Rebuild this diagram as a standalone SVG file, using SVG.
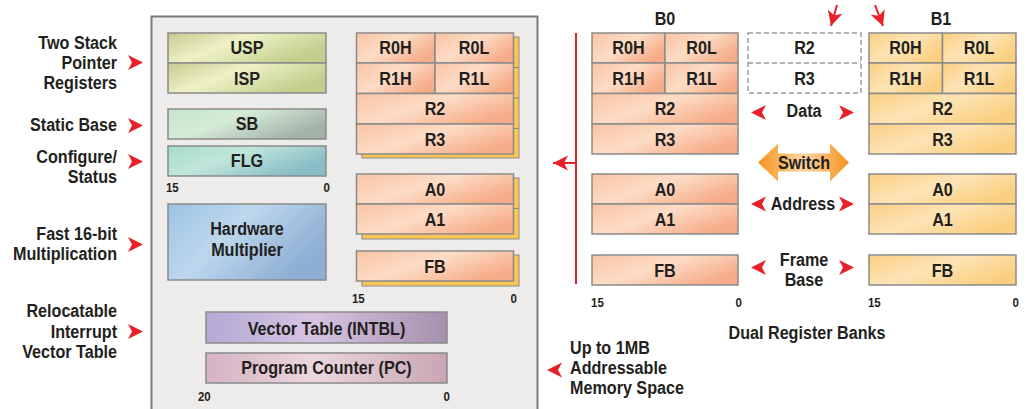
<svg xmlns="http://www.w3.org/2000/svg" width="1029" height="409" viewBox="0 0 1029 409">
<defs>
<style>
.t{font-family:"Liberation Sans",Arial,sans-serif;font-weight:bold;font-size:19px;fill:#231f20;transform-box:fill-box;transform-origin:left center;transform:scaleX(0.85)}
.c{text-anchor:middle;transform-origin:center center}
.e{text-anchor:end;transform-origin:right center}
.s{font-size:13.5px}
.r{stroke:#8a8a8a;stroke-width:1.5}
.sh{fill:#fbc657;stroke:#8a8a8a;stroke-width:1}
.red{stroke:#e8202a;stroke-width:2;fill:none}
</style>
<linearGradient id="gSal" x1="0" y1="0" x2="1" y2="0.6"><stop offset="0" stop-color="#f9c4a4"/><stop offset="0.5" stop-color="#fddcc6"/><stop offset="1" stop-color="#f6ac88"/></linearGradient>
<linearGradient id="gYel" x1="0" y1="0" x2="1" y2="0.6"><stop offset="0" stop-color="#fbcf82"/><stop offset="0.5" stop-color="#fde4b6"/><stop offset="1" stop-color="#fbcf80"/></linearGradient>
<linearGradient id="gOl" x1="0" y1="0" x2="1" y2="0.5"><stop offset="0" stop-color="#c6cb8f"/><stop offset="0.45" stop-color="#eef1c6"/><stop offset="1" stop-color="#c1ce8c"/></linearGradient>
<linearGradient id="gSB" x1="0" y1="0" x2="1" y2="0.5"><stop offset="0" stop-color="#c3e5cd"/><stop offset="0.45" stop-color="#d6ebd6"/><stop offset="1" stop-color="#a2b3a9"/></linearGradient>
<linearGradient id="gFLG" x1="0" y1="0" x2="1" y2="0.5"><stop offset="0" stop-color="#a8dcc6"/><stop offset="0.45" stop-color="#c0e6da"/><stop offset="1" stop-color="#88bcc6"/></linearGradient>
<linearGradient id="gHW" x1="0" y1="0" x2="1" y2="0.5"><stop offset="0" stop-color="#9cc3e2"/><stop offset="0.45" stop-color="#bdd7ee"/><stop offset="1" stop-color="#8eafd3"/></linearGradient>
<linearGradient id="gVT" x1="0" y1="0" x2="1" y2="0"><stop offset="0" stop-color="#b4aad6"/><stop offset="0.45" stop-color="#d6c3e1"/><stop offset="1" stop-color="#a690ae"/></linearGradient>
<linearGradient id="gPC" x1="0" y1="0" x2="1" y2="0"><stop offset="0" stop-color="#d5b3c2"/><stop offset="0.45" stop-color="#ecd6e0"/><stop offset="1" stop-color="#c9a5b4"/></linearGradient>
<linearGradient id="gSw" x1="0" y1="0" x2="1" y2="0"><stop offset="0" stop-color="#f7941d"/><stop offset="0.5" stop-color="#fcd4a0"/><stop offset="1" stop-color="#f7941d"/></linearGradient>
<path id="dart" d="M-7,-7.5 L8,0 L-7,7.5 L-3,0 Z" fill="#e8202a"/>
<marker id="ah" viewBox="-8 -8 16 16" markerWidth="16" markerHeight="16" refX="8" refY="0" orient="auto" markerUnits="userSpaceOnUse"><path d="M-7,-7.5 L8,0 L-7,7.5 L-3,0 Z" fill="#e8202a"/></marker>
</defs>
<rect width="1029" height="409" fill="#ffffff"/>

<g id="cpu">
<rect x="151.5" y="16.5" width="386" height="410" fill="#edecea" stroke="#7a7a7a" stroke-width="2"/>
</g>

<g id="stack-pointers">
<rect class="r" x="168" y="33" width="158" height="30" fill="url(#gOl)"/>
<rect class="r" x="168" y="63" width="158" height="30" fill="url(#gOl)"/>
<text class="t c" x="247" y="54.5">USP</text>
<text class="t c" x="247" y="85">ISP</text>
</g>
<g id="sb">
<rect class="r" x="168" y="109" width="158" height="30" fill="url(#gSB)"/>
<text class="t c" x="247" y="130.5">SB</text>
</g>
<g id="flg">
<rect class="r" x="168" y="146" width="158" height="30" fill="url(#gFLG)"/>
<text class="t c" x="247" y="167.5">FLG</text>
<text class="t s" x="166" y="192.5">15</text>
<text class="t s e" x="330" y="192.5">0</text>
</g>
<g id="hw-mult">
<rect class="r" x="168" y="204" width="158" height="76" fill="url(#gHW)"/>
<text class="t c" x="247" y="235">Hardware</text>
<text class="t c" x="247" y="256">Multiplier</text>
</g>
<g id="intbl">
<rect class="r" x="206" y="312" width="241" height="31" fill="url(#gVT)"/>
<text class="t c" x="326.5" y="335">Vector Table (INTBL)</text>
</g>
<g id="pc">
<rect class="r" x="206" y="353" width="241" height="30" fill="url(#gPC)"/>
<text class="t c" x="326.5" y="374.5">Program Counter (PC)</text>
<text class="t s" x="198" y="401.5">20</text>
<text class="t s e" x="450" y="401.5">0</text>
</g>

<g id="cpu-data">
<rect class="sh" x="362" y="37" width="157" height="121"/>
<line x1="513" y1="67.5" x2="519" y2="67.5" stroke="#8a8a8a"/>
<line x1="513" y1="98" x2="519" y2="98" stroke="#8a8a8a"/>
<line x1="513" y1="128.5" x2="519" y2="128.5" stroke="#8a8a8a"/>
<rect class="r" x="356.5" y="33" width="78.5" height="30" fill="url(#gSal)"/>
<rect class="r" x="435" y="33" width="78.5" height="30" fill="url(#gSal)"/>
<rect class="r" x="356.5" y="63" width="78.5" height="30.5" fill="url(#gSal)"/>
<rect class="r" x="435" y="63" width="78.5" height="30.5" fill="url(#gSal)"/>
<rect class="r" x="356.5" y="93.5" width="157" height="30.5" fill="url(#gSal)"/>
<rect class="r" x="356.5" y="124" width="157" height="30" fill="url(#gSal)"/>
<text class="t c" x="395.5" y="54.5">R0H</text>
<text class="t c" x="474" y="54.5">R0L</text>
<text class="t c" x="395.5" y="85">R1H</text>
<text class="t c" x="474" y="85">R1L</text>
<text class="t c" x="435" y="115.5">R2</text>
<text class="t c" x="435" y="146">R3</text>
</g>
<g id="cpu-addr">
<rect class="sh" x="362" y="178" width="157" height="61"/>
<line x1="513" y1="208.5" x2="519" y2="208.5" stroke="#8a8a8a"/>
<rect class="r" x="356.5" y="174" width="157" height="30" fill="url(#gSal)"/>
<rect class="r" x="356.5" y="204" width="157" height="30" fill="url(#gSal)"/>
<text class="t c" x="435" y="196">A0</text>
<text class="t c" x="435" y="226">A1</text>
</g>
<g id="cpu-fb">
<rect class="sh" x="362" y="255" width="157" height="31"/>
<rect class="r" x="356.5" y="251" width="157" height="30" fill="url(#gSal)"/>
<text class="t c" x="435" y="273">FB</text>
<text class="t s" x="352" y="303">15</text>
<text class="t s e" x="517" y="303">0</text>
</g>

<g id="b0">
<text class="t c" x="665" y="25">B0</text>
<rect class="r" x="592" y="33" width="73" height="30" fill="url(#gSal)"/>
<rect class="r" x="665" y="33" width="73" height="30" fill="url(#gSal)"/>
<rect class="r" x="592" y="63" width="73" height="30.5" fill="url(#gSal)"/>
<rect class="r" x="665" y="63" width="73" height="30.5" fill="url(#gSal)"/>
<rect class="r" x="592" y="93.5" width="146" height="30.5" fill="url(#gSal)"/>
<rect class="r" x="592" y="124" width="146" height="30" fill="url(#gSal)"/>
<text class="t c" x="628.5" y="54.5">R0H</text>
<text class="t c" x="701.5" y="54.5">R0L</text>
<text class="t c" x="628.5" y="85">R1H</text>
<text class="t c" x="701.5" y="85">R1L</text>
<text class="t c" x="665" y="115.5">R2</text>
<text class="t c" x="665" y="146">R3</text>
<rect class="r" x="592" y="174" width="146" height="30" fill="url(#gSal)"/>
<rect class="r" x="592" y="204" width="146" height="30" fill="url(#gSal)"/>
<text class="t c" x="665" y="196">A0</text>
<text class="t c" x="665" y="226">A1</text>
<rect class="r" x="592" y="255" width="146" height="30" fill="url(#gSal)"/>
<text class="t c" x="665" y="277">FB</text>
<text class="t s" x="591" y="307">15</text>
<text class="t s e" x="742" y="307">0</text>
</g>

<g id="b1">
<text class="t c" x="941" y="25">B1</text>
<rect class="r" x="869" y="33" width="73.5" height="30" fill="url(#gYel)"/>
<rect class="r" x="942.5" y="33" width="73.5" height="30" fill="url(#gYel)"/>
<rect class="r" x="869" y="63" width="73.5" height="30.5" fill="url(#gYel)"/>
<rect class="r" x="942.5" y="63" width="73.5" height="30.5" fill="url(#gYel)"/>
<rect class="r" x="869" y="93.5" width="147" height="30.5" fill="url(#gYel)"/>
<rect class="r" x="869" y="124" width="147" height="30" fill="url(#gYel)"/>
<text class="t c" x="905.5" y="54.5">R0H</text>
<text class="t c" x="979" y="54.5">R0L</text>
<text class="t c" x="905.5" y="85">R1H</text>
<text class="t c" x="979" y="85">R1L</text>
<text class="t c" x="942.5" y="115.5">R2</text>
<text class="t c" x="942.5" y="146">R3</text>
<rect class="r" x="869" y="174" width="147" height="30" fill="url(#gYel)"/>
<rect class="r" x="869" y="204" width="147" height="30" fill="url(#gYel)"/>
<text class="t c" x="942.5" y="196">A0</text>
<text class="t c" x="942.5" y="226">A1</text>
<rect class="r" x="869" y="255" width="147" height="30" fill="url(#gYel)"/>
<text class="t c" x="942.5" y="277">FB</text>
<text class="t s" x="868" y="307">15</text>
<text class="t s e" x="1019" y="307">0</text>
</g>

<g id="shared">
<rect x="748" y="33" width="113" height="60" fill="#ffffff" stroke="#9a9a9a" stroke-width="1.5" stroke-dasharray="5,3"/>
<line x1="748" y1="63" x2="861" y2="63" stroke="#9a9a9a" stroke-width="1.5" stroke-dasharray="5,3"/>
<text class="t c" x="804.5" y="54.5">R2</text>
<text class="t c" x="804.5" y="85">R3</text>
</g>
<g id="switch">
<path d="M758,162.5 L778,143.5 L778,153.5 L830,153.5 L830,143.5 L849,162.5 L830,181.5 L830,171.5 L778,171.5 L778,181.5 Z" fill="url(#gSw)"/>
<text class="t c" x="804" y="169.5">Switch</text>
</g>
<g id="labels">
<text class="t e" x="117" y="49.5">Two Stack</text>
<text class="t e" x="117" y="69.5">Pointer</text>
<text class="t e" x="117" y="89.5">Registers</text>
<text class="t e" x="117" y="131.5">Static Base</text>
<text class="t e" x="117" y="163.5">Configure/</text>
<text class="t e" x="117" y="183.5">Status</text>
<text class="t e" x="117" y="240">Fast 16-bit</text>
<text class="t e" x="117" y="260.5">Multiplication</text>
<text class="t e" x="117" y="317.5">Relocatable</text>
<text class="t e" x="117" y="338">Interrupt</text>
<text class="t e" x="117" y="358">Vector Table</text>
<text class="t c" x="804" y="117.5">Data</text>
<text class="t c" x="803" y="210">Address</text>
<text class="t c" x="804" y="266">Frame</text>
<text class="t c" x="804" y="286">Base</text>
<text class="t c" x="807" y="339">Dual Register Banks</text>
<text class="t" x="570" y="354">Up to 1MB</text>
<text class="t" x="570" y="374.5">Addressable</text>
<text class="t" x="570" y="394">Memory Space</text>
</g>

<g id="connectors">
<line class="red" x1="576" y1="33" x2="576" y2="284"/>
<line class="red" x1="576" y1="163" x2="553" y2="163" marker-end="url(#ah)"/>
<line class="red" x1="837" y1="5" x2="831" y2="26" marker-end="url(#ah)"/>
<line class="red" x1="875" y1="5" x2="883" y2="26" marker-end="url(#ah)"/>
<use href="#dart" x="135" y="62.5"/>
<use href="#dart" x="135" y="125.5"/>
<use href="#dart" x="135" y="161.5"/>
<use href="#dart" x="135" y="244.5"/>
<use href="#dart" x="135" y="331.5"/>
<use href="#dart" transform="translate(759,112.5) scale(-1,1)"/>
<use href="#dart" x="846" y="112.5"/>
<use href="#dart" transform="translate(759,204) scale(-1,1)"/>
<use href="#dart" x="846" y="204"/>
<use href="#dart" transform="translate(759,267.5) scale(-1,1)"/>
<use href="#dart" x="846" y="267.5"/>
<use href="#dart" transform="translate(555,370) scale(-1,1)"/>
</g>
</svg>
